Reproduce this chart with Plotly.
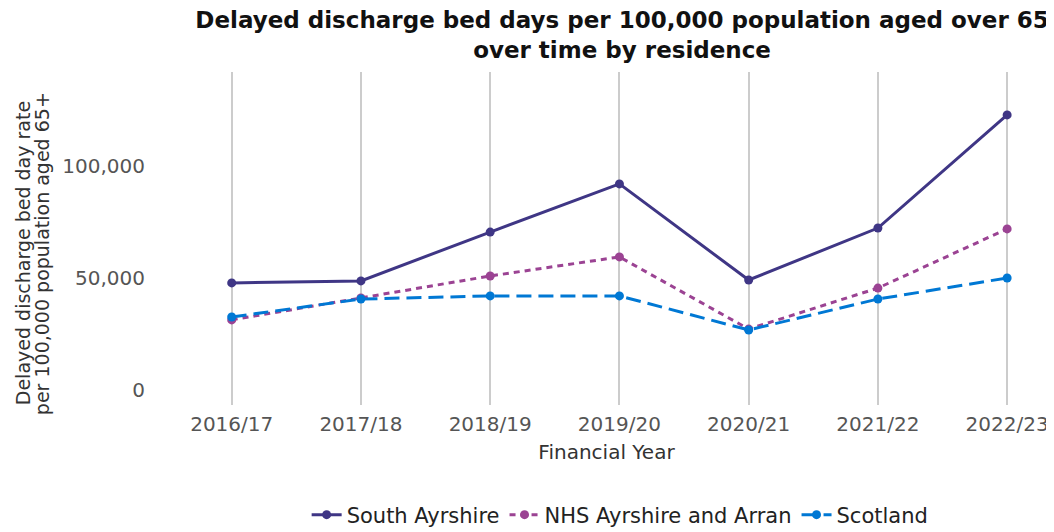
import plotly.graph_objects as go

years = ["2016/17", "2017/18", "2018/19", "2019/20", "2020/21", "2021/22", "2022/23"]
south_ayrshire = [47800, 48700, 70500, 92000, 49100, 72300, 122800]
nhs_ayrshire_arran = [31300, 41100, 50900, 59400, 27200, 45500, 71900]
scotland = [32600, 40600, 42000, 42000, 26800, 40600, 50000]

series = [
    ("South Ayrshire", south_ayrshire, "#3F3685", "solid"),
    ("NHS Ayrshire and Arran", nhs_ayrshire_arran, "#9B4393", "6px,5px"),
    ("Scotland", scotland, "#0078D4", "15px,7px"),
]

fig = go.Figure()
for name, vals, color, dash in series:
    fig.add_trace(go.Scatter(
        x=years, y=vals, name=name, mode="lines+markers",
        line=dict(color=color, width=3, dash=dash),
        marker=dict(color=color, size=9),
    ))

font = "DejaVu Sans"
fig.update_layout(
    width=1054, height=532,
    margin=dict(l=172, r=29, t=64, b=135),
    paper_bgcolor="white", plot_bgcolor="white",
    font=dict(family=font, size=20, color="#555555"),
    title=dict(
        text="<b>Delayed discharge bed days per 100,000 population aged over 65<br>over time by residence</b>",
        x=0.5826, xanchor="center", y=0.962, yanchor="top",
        font=dict(family=font, size=23, color="#111111"),
    ),
    xaxis=dict(
        title=dict(text="Financial Year", font=dict(size=20, color="#333333"), standoff=9),
        range=[-0.4, 6.2], showgrid=True, gridcolor="#cccccc", gridwidth=1.5,
        showline=False, zeroline=False, ticks="outside", ticklen=1,
        tickcolor="rgba(0,0,0,0)", tickfont=dict(size=20, color="#555555"),
        automargin=False,
    ),
    yaxis=dict(
        range=[-6700, 141960], tickvals=[0, 50000, 100000], tickformat=",",
        showgrid=False, zeroline=False, showline=False,
        ticks="outside", ticklen=30, tickcolor="rgba(0,0,0,0)",
        tickfont=dict(size=20, color="#555555"),
        automargin=False,
    ),
    legend=dict(
        orientation="h", x=0.516, xanchor="center",
        yref="container", y=0.047, yanchor="middle",
        font=dict(size=21, color="#222222"),
    ),
)

ytitle_lines = ["Delayed discharge bed day rate", "per 100,000 population aged 65+"]
for xpos, line in zip([-0.184, -0.1618], ytitle_lines):
    fig.add_annotation(
        text=line, xref="paper", yref="paper", x=xpos, y=0.456,
        xanchor="center", yanchor="middle", textangle=-90, showarrow=False,
        font=dict(family=font, size=19, color="#333333"),
    )

fig.write_html("out.html")
